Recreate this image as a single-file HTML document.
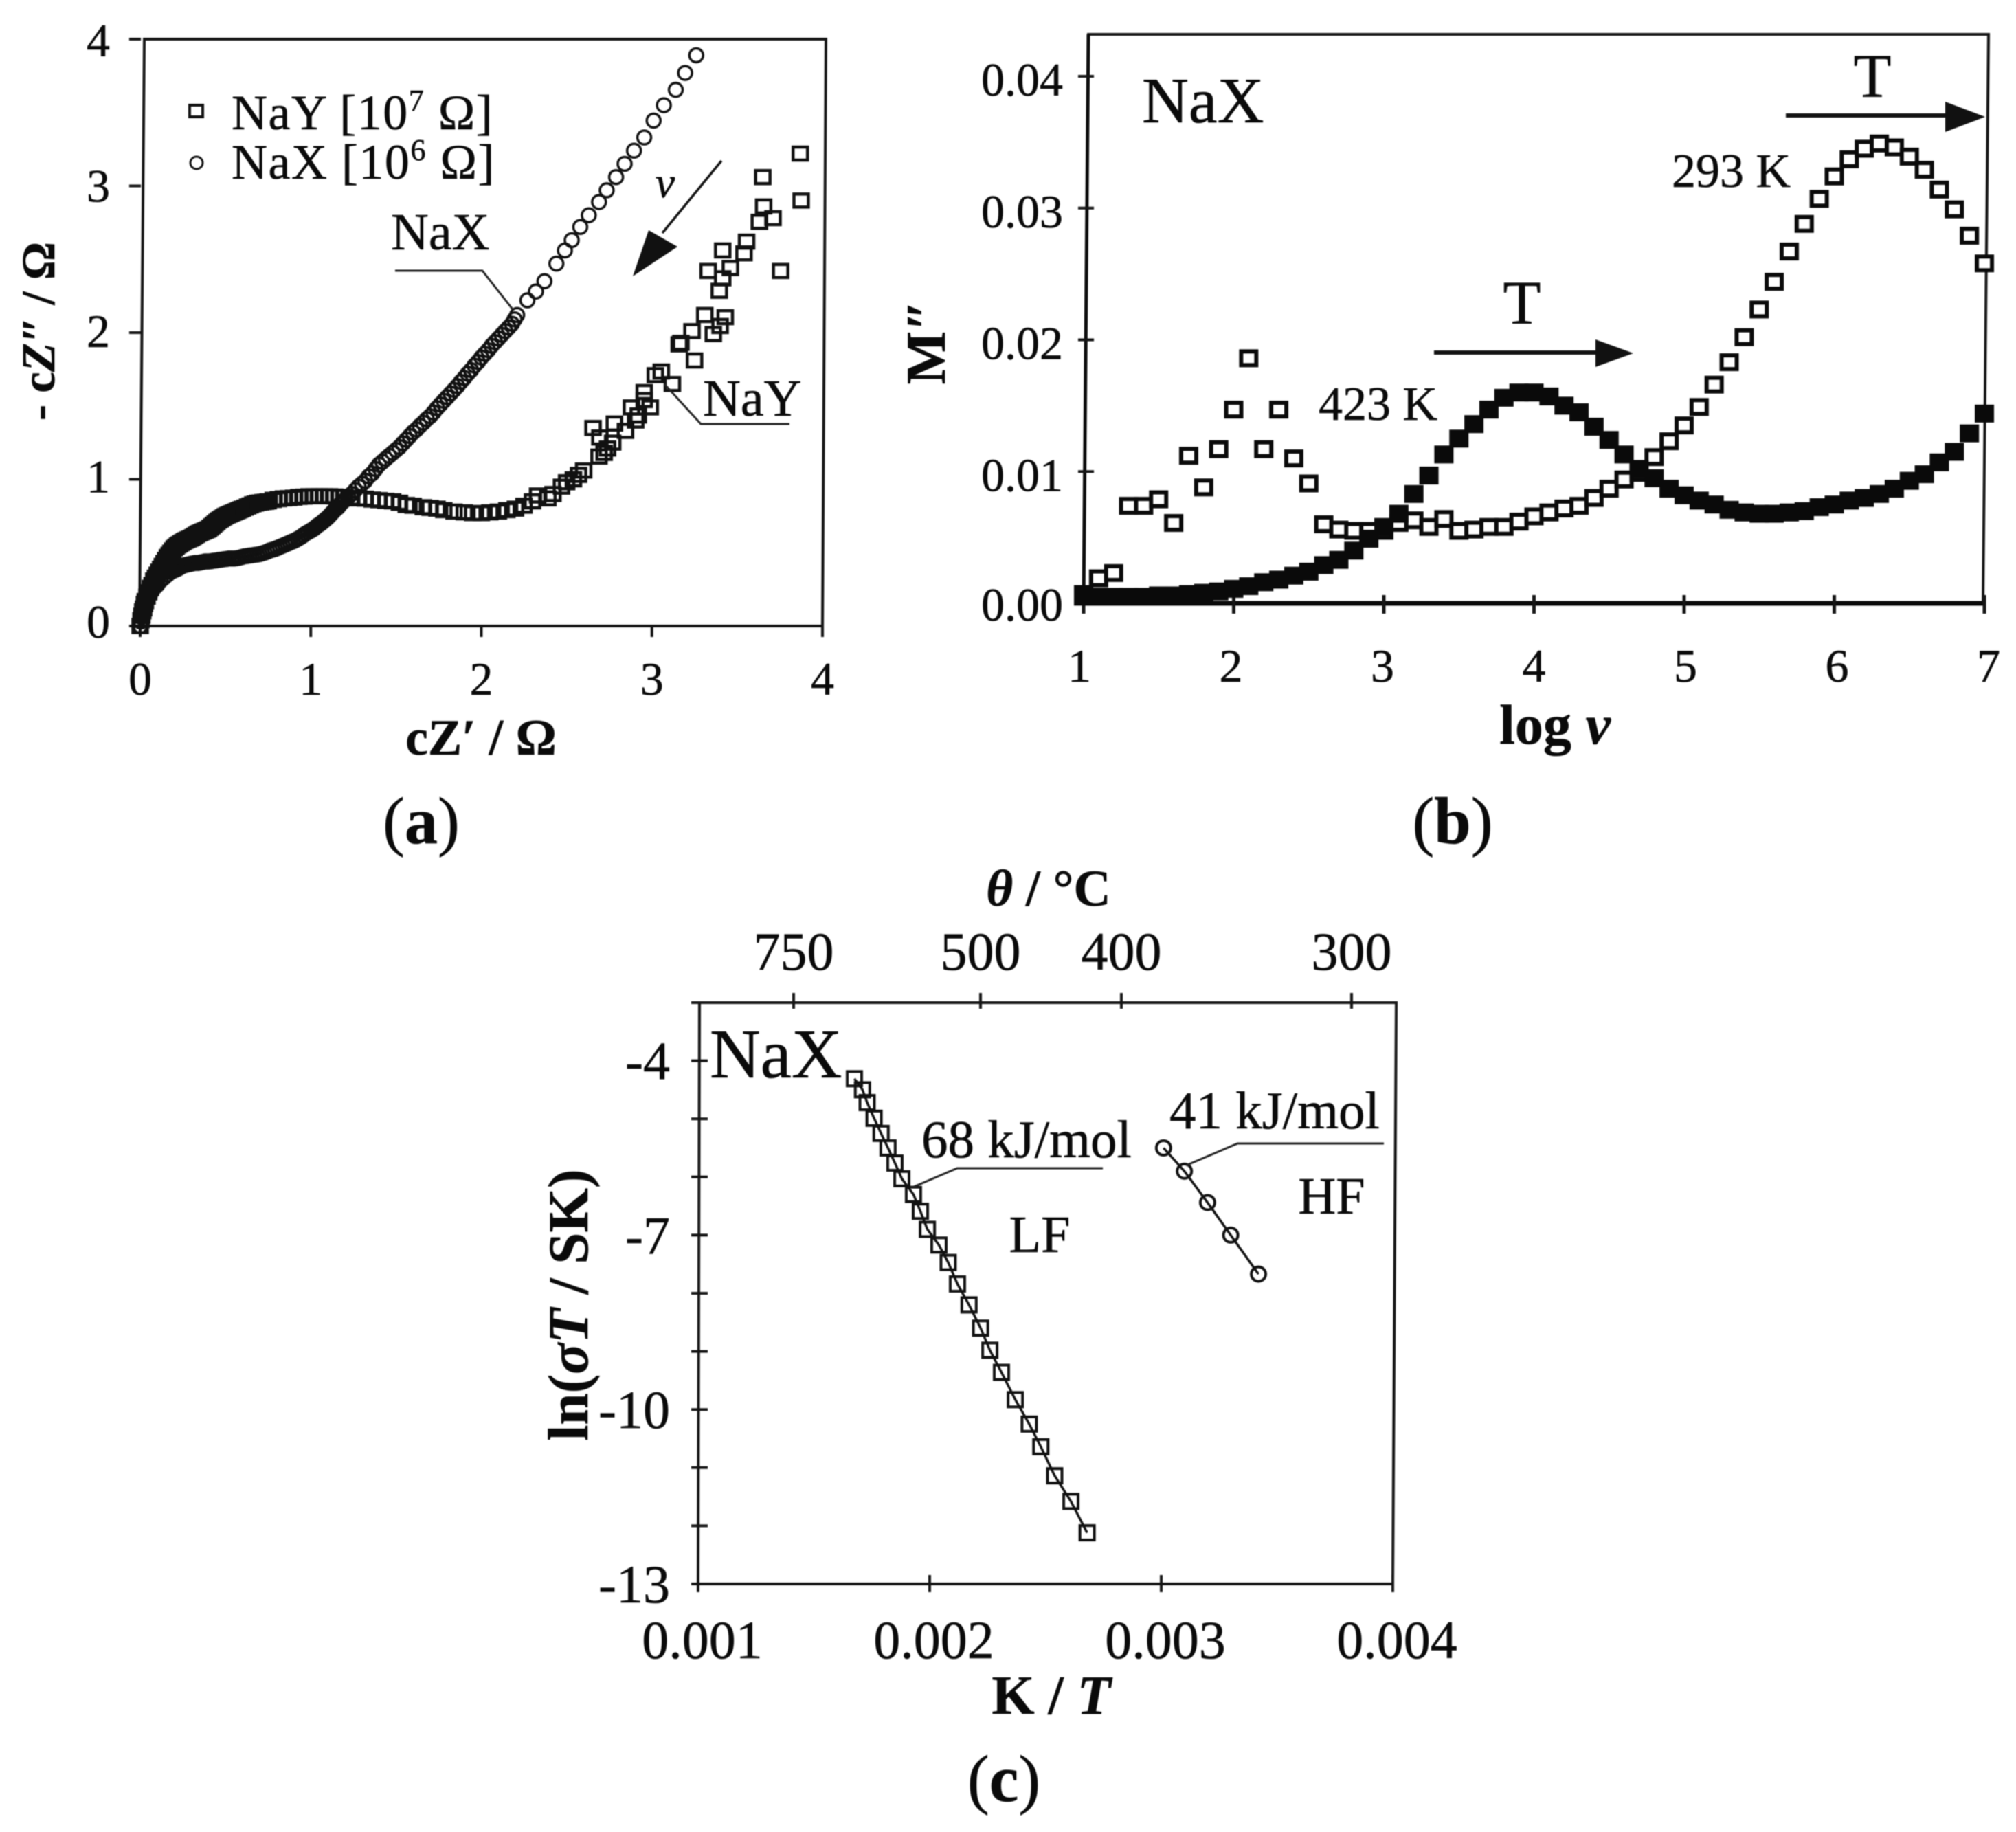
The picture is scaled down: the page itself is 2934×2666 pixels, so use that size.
<!DOCTYPE html>
<html lang="en">
<head>
<meta charset="utf-8">
<title>NaX and NaY impedance, modulus and Arrhenius plots</title>
<style>
html,body{margin:0;padding:0;background:#fff}
svg{display:block;filter:blur(0.7px)}
text{font-family:"Liberation Serif",serif;fill:#0a0a0a;stroke:#0a0a0a;stroke-width:.6px}
.b{font-weight:bold}
.i{font-style:italic}
</style>
</head>
<body>
<svg id="fig" xmlns="http://www.w3.org/2000/svg" width="2934" height="2666" viewBox="0 0 2934 2666">
<rect width="2934" height="2666" fill="#fff"/>

<g id="panelA">
  <polygon points="210,57 1202,57 1197,911 203,911" fill="none" stroke="#151515" stroke-width="4"/>
  <g id="aTicks"></g>
  <g id="aMarks"></g>
  <rect x="276" y="153" width="19" height="17" fill="#fff" stroke="#111" stroke-width="4"/>
  <circle cx="286" cy="237" r="9" fill="#fff" stroke="#111" stroke-width="3"/>
  <text x="337" y="188" font-size="72" letter-spacing="1.5">NaY [10<tspan font-size="44" dy="-27">7</tspan><tspan dy="27"> Ω]</tspan></text>
  <text x="337" y="260" font-size="72" letter-spacing="1.5">NaX [10<tspan font-size="44" dy="-27">6</tspan><tspan dy="27"> Ω]</tspan></text>
  <text x="569" y="363" font-size="76">NaX</text>
  <polyline points="575,394 702,394 746,450" fill="none" stroke="#222" stroke-width="3"/>
  <text x="1023" y="605" font-size="76">NaY</text>
  <polyline points="967,559 1020,617 1149,617" fill="none" stroke="#222" stroke-width="3"/>
  <line x1="1050" y1="234" x2="964" y2="339" stroke="#111" stroke-width="3.5"/>
  <polygon points="921,402 944,335 986,359" fill="#111"/>
  <text class="i" x="968" y="287" font-size="64" text-anchor="middle">ν</text>
  <text class="b" x="700" y="1098" font-size="74" text-anchor="middle">cZ′ / Ω</text>
  <text class="b" font-size="69" text-anchor="middle" transform="translate(79 482) rotate(-90)">- c<tspan class="i">Z″</tspan> / Ω</text>
  <text x="613" y="1227" font-size="96" text-anchor="middle">(<tspan class="b">a</tspan>)</text>
</g>

<g id="panelB">
  <polygon points="1584,50 2894,50 2886,878 1577,878" fill="none" stroke="#151515" stroke-width="4"/>
  <line x1="1577" y1="878" x2="2886" y2="878" stroke="#0a0a0a" stroke-width="7"/>
  <line x1="1584" y1="50" x2="1577" y2="878" stroke="#0a0a0a" stroke-width="5"/>
  <g id="bTicks"></g>
  <g id="bMarks"></g>
  <text x="1662" y="178" font-size="94">NaX</text>
  <text x="2725" y="141" font-size="90" text-anchor="middle">T</text>
  <line x1="2599" y1="168" x2="2837" y2="168" stroke="#111" stroke-width="6"/>
  <polygon points="2889,170 2831,148 2831,192" fill="#111"/>
  <text x="2433" y="272" font-size="70">293 K</text>
  <text x="1919" y="611" font-size="70">423 K</text>
  <text x="2215" y="471" font-size="90" text-anchor="middle">T</text>
  <line x1="2087" y1="513" x2="2324" y2="513" stroke="#111" stroke-width="6"/>
  <polygon points="2377,514 2322,494 2322,534" fill="#111"/>
  <text class="b" x="2263" y="1082" font-size="82" text-anchor="middle">log <tspan class="i">v</tspan></text>
  <text class="b" font-size="82" text-anchor="middle" transform="translate(1375 498) rotate(-90)">M″</text>
  <text x="2114" y="1227" font-size="96" text-anchor="middle">(<tspan class="b">b</tspan>)</text>
</g>

<g id="panelC">
  <polygon points="1018,1459 2032,1459 2027,2305 1016,2305" fill="none" stroke="#151515" stroke-width="4"/>
  <g id="cTicks"></g>
  <g id="cMarks"></g>
  <text x="1033" y="1568" font-size="102">NaX</text>
  <text x="1341" y="1684" font-size="77">68 kJ/mol</text>
  <polyline points="1330,1727 1393,1700 1605,1700" fill="none" stroke="#222" stroke-width="3"/>
  <text x="1702" y="1642" font-size="77">41 kJ/mol</text>
  <polyline points="1726,1696 1801,1664 2014,1664" fill="none" stroke="#222" stroke-width="3"/>
  <text x="1513" y="1822" font-size="76" text-anchor="middle">LF</text>
  <text x="1938" y="1766" font-size="76" text-anchor="middle">HF</text>
  <text class="b" x="1526" y="1318" font-size="75" text-anchor="middle"><tspan class="i">θ</tspan> / °C</text>
  <text class="b" x="1530" y="2494" font-size="80" text-anchor="middle">K / <tspan class="i">T</tspan></text>
  <text class="b" font-size="83" text-anchor="middle" transform="translate(855 1899) rotate(-90)">ln(<tspan class="i">σT</tspan> / SK)</text>
  <text x="1461" y="2621" font-size="96" text-anchor="middle">(<tspan class="b">c</tspan>)</text>
</g>
</svg>

<script>
// Panel (a): Nyquist plot
const aTickValues = [0, 1, 2, 3, 4];
const naxZre = [0,.004,.008,.012,.016,.02,.025,.03,.035,.04,.05,.06,.07,.08,.09,.1,.12,.14,.16,.18,
.2,.22,.24,.26,.28,.3,.32,.34,.36,.38,
.4,.43,.46,.49,.52,.55,.58,.61,.64,.67,
.7,.73,.76,.79,.82,.85,.88,.91,.94,.97,
1,1.02,1.04,1.06,1.08,1.1,1.12,1.14,1.16,1.18,
1.2,1.22,1.24,1.26,1.28,1.3,1.32,1.34,1.36,1.38,
1.4,1.42,1.44,1.46,1.48,1.5,1.52,1.54,1.56,1.58,
1.6,1.62,1.64,1.66,1.68,1.7,1.72,1.74,1.76,1.78,
1.8,1.82,1.84,1.86,1.88,1.9,1.92,1.94,1.96,1.98,
2,2.02,2.04,2.06,2.08,2.1,2.12,2.14,2.16,2.18,
2.195,2.21,2.27,2.32,2.37,2.44,2.49,2.53,2.58,2.63,2.69,2.735,2.79,2.84,2.895,2.955,3.01,3.07,3.14,3.195,3.26,
.415,.445,.475,.505,.535,.565,.595,.625,.655,.685,.715,.745,.775,.805,.835,.865,.895,.925,.955,.985,
.19,.21,.23,.25,.27,.29,.31,.33,.35,.37,.39,
1.01,1.03,1.05,1.07,1.09,1.11,1.13,1.15,1.17,1.19];
const naxZim = [0,.03,.06,.08,.1,.12,.135,.15,.165,.18,.2,.22,.24,.26,.27,.28,.31,.33,.35,.37,
.38,.39,.405,.415,.42,.425,.43,.43,.435,.44,
.44,.445,.45,.455,.46,.46,.465,.475,.48,.485,
.49,.5,.515,.525,.54,.555,.57,.585,.605,.63,
.65,.665,.685,.7,.72,.74,.765,.79,.81,.84,
.86,.88,.9,.925,.95,.97,.99,1.02,1.04,1.07,
1.1,1.12,1.14,1.16,1.18,1.2,1.22,1.245,1.27,1.295,
1.32,1.34,1.365,1.385,1.41,1.43,1.455,1.485,1.51,1.535,
1.56,1.585,1.61,1.635,1.665,1.69,1.72,1.745,1.775,1.8,
1.83,1.855,1.88,1.91,1.935,1.96,1.985,2.01,2.035,2.06,
2.09,2.12,2.22,2.28,2.35,2.47,2.56,2.63,2.72,2.8,2.89,2.97,3.06,3.15,3.24,3.33,3.445,3.55,3.655,3.77,3.89,
.442,.447,.452,.457,.46,.462,.47,.477,.482,.487,.495,.507,.52,.532,.547,.562,.577,.595,.617,.64,
.375,.385,.397,.41,.417,.422,.427,.43,.432,.437,.44,
.657,.675,.692,.71,.73,.752,.777,.8,.825,.85];
const nayZre = [0,.005,.01,.015,.02,.025,.03,.04,.05,.06,.07,.08,.09,.1,.11,.12,.13,.14,.15,.16,
.18,.2,.22,.24,.26,.28,.3,.32,.34,.36,
.38,.4,.42,.44,.46,.48,.5,.52,.54,.56,
.58,.6,.63,.66,.69,.72,.75,.78,.81,.84,
.87,.9,.93,.96,.99,1.02,1.05,1.08,1.11,1.14,
1.17,1.2,1.24,1.28,1.32,1.36,1.4,1.44,1.48,1.52,
1.56,1.6,1.66,1.7,1.74,1.78,1.84,1.9,1.95,2.0,
2.05,2.1,2.15,2.2,2.25,2.3,2.33,2.39,2.42,2.47,
2.5,2.54,2.57,2.6,2.655,2.695,2.69,2.72,2.74,2.77,
2.78,2.845,2.88,2.905,2.92,2.955,2.955,2.99,3.02,3.055,
3.12,3.16,3.17,3.235,3.25,3.31,3.33,3.36,3.395,3.4,
3.415,3.415,3.43,3.46,3.54,3.555,3.63,3.65,3.655,3.71,
3.755,3.87,3.875,
.17,.19,.21,.23,.25,.27,.29,.31,.33,.35,.37,.39,.41,.43,.45,.47,.49,.51,.53,.55,.57,.59,.615,.645,.675,.705,.735];
const nayZim = [0,.04,.07,.1,.12,.15,.17,.2,.23,.26,.28,.31,.33,.35,.37,.39,.41,.43,.45,.47,
.5,.53,.55,.565,.58,.59,.6,.615,.63,.64,
.65,.66,.68,.7,.72,.735,.75,.76,.77,.78,
.79,.8,.815,.83,.84,.845,.85,.86,.865,.87,
.872,.875,.88,.882,.885,.885,.885,.885,.885,.883,
.88,.88,.875,.87,.868,.862,.858,.853,.85,.84,
.825,.82,.81,.805,.8,.79,.78,.775,.77,.77,
.775,.78,.79,.8,.82,.85,.89,.87,.9,.95,
.98,1,1.03,1.06,1.35,1.285,1.155,1.18,1.21,1.25,
1.38,1.33,1.49,1.4,1.435,1.595,1.54,1.49,1.71,1.735,
1.65,1.92,1.93,2.01,1.81,2.12,2.42,1.99,2.285,2.045,
2.56,2.37,2.105,2.44,2.54,2.62,2.755,3.06,2.86,2.78,
2.42,3.22,2.9,
.485,.515,.54,.557,.572,.585,.595,.607,.622,.635,.645,.655,.67,.69,.71,.727,.742,.755,.765,.775,.785,.795,.807,.822,.835,.842,.847];

// Panel (b): modulus spectra
const bYTicks = [0, 0.01, 0.02, 0.03, 0.04];
const bYTickLabels = ["0.00", "0.01", "0.02", "0.03", "0.04"];
const bXTicks = [1, 2, 3, 4, 5, 6, 7];
const logV293 = [1,1.1,1.2,1.3,1.4,1.5,1.6,1.7,1.8,1.9,2,2.1,2.2,2.3,2.4,2.5,2.6,2.7,2.8,2.9,3,3.1,3.2,3.3,3.4,3.5,3.6,3.7,3.8,3.9,4,4.1,4.2,4.3,4.4,4.5,4.6,4.7,4.8,4.9,5,5.1,5.2,5.3,5.4,5.5,5.6,5.7,5.8,5.9,6,6.1,6.2,6.3,6.4,6.5,6.6,6.7,6.8,6.9,7];
const m293 = [.0007,.0019,.0023,.0074,.0074,.0079,.0061,.0112,.0088,.0117,.0147,.0186,.0117,.0147,.011,.0091,.006,.0056,.0055,.0055,.0055,.0061,.0063,.0058,.0064,.0055,.0056,.0058,.0058,.0062,.0066,.0069,.0072,.0074,.008,.0087,.0094,.0099,.0111,.0123,.0135,.0149,.0166,.0183,.0202,.0223,.0244,.0267,.0288,.0307,.0324,.0337,.0345,.0349,.0346,.0339,.0329,.0314,.0299,.0279,.0258];
const logV423 = [1,1.1,1.2,1.3,1.4,1.5,1.6,1.7,1.8,1.9,2,2.1,2.2,2.3,2.4,2.5,2.6,2.7,2.8,2.9,3,3.1,3.2,3.3,3.4,3.5,3.6,3.7,3.8,3.9,4,4.1,4.2,4.3,4.4,4.5,4.6,4.7,4.8,4.9,5,5.1,5.2,5.3,5.4,5.5,5.6,5.7,5.8,5.9,6,6.1,6.2,6.3,6.4,6.5,6.6,6.7,6.8,6.9,7];
const m423 = [.0005,.0005,.0005,.0005,.0005,.0006,.0006,.0007,.0008,.0009,.0011,.0013,.0016,.0018,.0021,.0024,.0029,.0033,.004,.0049,.0058,.0068,.0083,.0097,.0113,.0125,.0136,.0147,.0156,.016,.016,.0157,.015,.0145,.0134,.0124,.0113,.0102,.0095,.0087,.0082,.0078,.0075,.0071,.0069,.0068,.0068,.0069,.007,.0073,.0075,.0078,.008,.0083,.0087,.0093,.0098,.0107,.0115,.0129,.0144];

// Panel (c): Arrhenius plot
const cYTicks = [-3,-4,-5,-6,-7,-8,-9,-10,-11,-12,-13];
const cYLabels = ["-4","-7","-10","-13"];
const cYLabelValues = [-4,-7,-10,-13];
const cXTicks = [0.001, 0.002, 0.003, 0.004];
const cXTickLabels = ["0.001", "0.002", "0.003", "0.004"];
const thetaTicks = [750, 500, 400, 300];
const lfX = [.001675,.00171,.00173,.00176,.00179,.00182,.00185,.00188,.00193,.00196,.00199,.00204,.00208,.00212,.00217,.00222,.00226,.00231,.00237,.00243,.00248,.00254,.00261,.00268];
const lfY = [-4.31,-4.5,-4.72,-4.99,-5.25,-5.5,-5.76,-6.03,-6.3,-6.59,-6.9,-7.17,-7.47,-7.84,-8.2,-8.6,-8.98,-9.36,-9.83,-10.25,-10.64,-11.14,-11.58,-12.12];
const hfX = [.00301,.0031,.0032,.0033,.00342];
const hfY = [-5.5,-5.9,-6.44,-7,-7.67];

const NS = "http://www.w3.org/2000/svg";
function make(tag, parent, props) {
  const el = document.createElementNS(NS, tag);
  for (const k in props) el.setAttribute(k, props[k]);
  parent.appendChild(el);
  return el;
}
function linear(d0, d1, r0, r1) { return v => r0 + (v - d0) * (r1 - r0) / (d1 - d0); }

// Panel (a)
const ax = linear(0, 4, 204, 1197);
const ay = linear(0, 4, 911, 57);
const aT = document.getElementById("aTicks");
const aM = document.getElementById("aMarks");
aTickValues.forEach(v => {
  const t1 = make("line", aT, {x1: ax(v), x2: ax(v), y1: 911, y2: 927, stroke: "#151515", "stroke-width": 4});
  
  
  const t2 = make("line", aT, {x1: 188, x2: 205, y1: ay(v), y2: ay(v), stroke: "#151515", "stroke-width": 4});
  
  
  const l1 = make("text", aT, {x: ax(v), y: 1011, "font-size": 68, "text-anchor": "middle"});
  l1.textContent = v;
  
  
  const l2 = make("text", aT, {x: 160, y: ay(v) + 21 + (v - 2) * 2, "font-size": 68, "text-anchor": "end"});
  l2.textContent = v;
  
  
});
naxZre.forEach((v, i) => {
  const c = make("circle", aM, {cx: ax(v), cy: ay(naxZim[i]), r: 10, fill: "none", stroke: "#111", "stroke-width": 3.5});
  
  
});
nayZre.forEach((v, i) => {
  const s = make("rect", aM, {x: ax(v) - 10.5, y: ay(nayZim[i]) - 9.5, width: 21, height: 19, fill: "none", stroke: "#111", "stroke-width": 4.5});
  
  
});

// Panel (b)
const bx = linear(1, 7, 1577, 2888);
const by = linear(0, 0.04, 878, 111);
const bT = document.getElementById("bTicks");
const bM = document.getElementById("bMarks");
bXTicks.forEach(v => {
  const t = make("line", bT, {x1: bx(v), x2: bx(v), y1: 866, y2: 893, stroke: "#151515", "stroke-width": 5});
  
  
  const l = make("text", bT, {x: bx(v) + (v - 4) * 2, y: 992, "font-size": 68, "text-anchor": "middle"});
  l.textContent = v;
  
  
});
bYTicks.forEach((v, i) => {
  const t = make("line", bT, {x1: 1569, x2: 1592, y1: by(v), y2: by(v), stroke: "#151515", "stroke-width": 4});
  
  
  const l = make("text", bT, {x: 1547, y: by(v) + (i === 0 ? 25 : 28), "font-size": 68, "text-anchor": "end"});
  l.textContent = bYTickLabels[i];
  
  
});
logV293.forEach((v, i) => {
  const s = make("rect", bM, {x: bx(v) - 11, y: by(m293[i]) - 10, width: 22, height: 20, fill: "#fff", stroke: "#0a0a0a", "stroke-width": 6});
  
  
});
logV423.forEach((v, i) => {
  const s = make("rect", bM, {x: bx(v) - 14, y: by(m423[i]) - 13, width: 28, height: 26, fill: "#0a0a0a"});
  
  
});

// Panel (c)
const cx = linear(0.001, 0.004, 1016, 2027);
const cy = linear(-3, -13, 1459, 2305);
// The printed top axis is not linear in temperature, so the scale is piecewise between its printed ticks.
function thetaX(t) {
  if (t >= 500) return linear(750, 500, 1155, 1427)(t);
  if (t >= 400) return linear(500, 400, 1427, 1632)(t);
  return linear(400, 300, 1632, 1967)(t);
}
const cT = document.getElementById("cTicks");
const cM = document.getElementById("cMarks");
cYTicks.forEach(v => {
  const t = make("line", cT, {x1: 1006, x2: 1030, y1: cy(v), y2: cy(v), stroke: "#151515", "stroke-width": 4});
  
  
});
cYLabels.forEach((s, i) => {
  const l = make("text", cT, {x: 975, y: cy(cYLabelValues[i]) + 27, "font-size": 78, "text-anchor": "end"});
  l.textContent = s;
  
  
});
cXTicks.forEach((v, i) => {
  const t = make("line", cT, {x1: cx(v), x2: cx(v), y1: 2292, y2: 2317, stroke: "#151515", "stroke-width": 4});
  
  
  const l = make("text", cT, {x: cx(v) + 6, y: 2413, "font-size": 78, "text-anchor": "middle"});
  l.textContent = cXTickLabels[i];
  
  
});
thetaTicks.forEach(v => {
  const x = thetaX(v);
  const t = make("line", cT, {x1: x, x2: x, y1: 1445, y2: 1468, stroke: "#151515", "stroke-width": 4});
  
  
  const l = make("text", cT, {x: x, y: 1411, "font-size": 78, "text-anchor": "middle"});
  l.textContent = v;
  
  
});
const lfLine = make("polyline", cM, {points: lfX.map((v, i) => cx(v) + "," + cy(lfY[i])).join(" "), fill: "none", stroke: "#111", "stroke-width": 3.5});


const hfLine = make("polyline", cM, {points: hfX.map((v, i) => cx(v) + "," + cy(hfY[i])).join(" "), fill: "none", stroke: "#111", "stroke-width": 3.5});


lfX.forEach((v, i) => {
  const s = make("rect", cM, {x: cx(v) - 10.5, y: cy(lfY[i]) - 10.5, width: 21, height: 21, fill: "none", stroke: "#111", "stroke-width": 4});
  
  
});
hfX.forEach((v, i) => {
  const c = make("circle", cM, {cx: cx(v), cy: cy(hfY[i]), r: 10.5, fill: "none", stroke: "#111", "stroke-width": 4});
  
  
});
</script>
</body>
</html>
